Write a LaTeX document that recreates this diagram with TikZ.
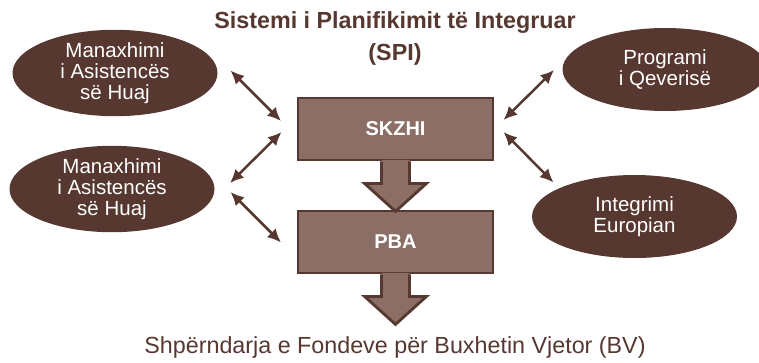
\documentclass[tikz,border=0pt]{standalone}
\usepackage{fontspec}
\setmainfont{Liberation Sans}
\usetikzlibrary{shapes.geometric,arrows.meta}

\definecolor{darkbrown}{HTML}{563830}
\definecolor{boxbrown}{HTML}{8B6F66}

\tikzset{
  ovalnode/.style={ellipse, fill=darkbrown, text=white, align=center, inner sep=0pt,
    minimum width=205pt, minimum height=83pt, font=\fontsize{20.5}{21}\selectfont},
  blockbox/.style={draw=darkbrown, fill=boxbrown, line width=2.8pt, text=white,
    minimum width=195pt, minimum height=62pt, font=\fontsize{20}{24}\selectfont\bfseries},
  linkarrow/.style={{Latex[length=13.5pt,width=12.5pt]}-{Latex[length=13.5pt,width=12.5pt]},
    draw=darkbrown, line width=2.5pt},
}

\begin{document}
\begin{tikzpicture}[x=1pt,y=-1pt]
    \useasboundingbox (0,0) rectangle (759,362);

    % title and result
    \node[text=darkbrown, align=center, font=\fontsize{23.3}{32}\selectfont\bfseries] (spi) at (395,38)
      {Sistemi i Planifikimit të Integruar\\(SPI)};
    \node[text=darkbrown, anchor=base, font=\fontsize{23.3}{26}\selectfont] (bv) at (395,353)
      {Shpërndarja e Fondeve për Buxhetin Vjetor (BV)};

    % the four ovals
    \node[ovalnode] (mah1) at (115,73) {Manaxhimi\\i Asistencës\\së Huaj};
    \node[ovalnode] (mah2) at (112,189) {Manaxhimi\\i Asistencës\\së Huaj};
    \node[ovalnode] (prog) at (665,69.5) {Programi\\i Qeverisë};
    \node[ovalnode] (integ) at (634.5,216.5) {Integrimi\\Europian};

    % the two blocks
    \node[blockbox] (skzhi) at (395.5,129) {SKZHI};
    \node[blockbox] (pba) at (395.5,242) {PBA};

    % block arrows below each box
    \foreach \b in {skzhi,pba} {
      \fill[boxbrown] ([xshift=-14pt,yshift=1.6pt]\b.south) -- ++(0,23.6) -- ++(-17,0)
        -- ++(31,28) -- ++(31,-28) -- ++(-17,0) -- ++(0,-23.6) -- cycle;
      \draw[darkbrown, line width=2.8pt, line join=miter] ([xshift=-14pt]\b.south) -- ++(0,22)
        -- ++(-17,0) -- ++(31,28) -- ++(31,-28) -- ++(-17,0) -- ++(0,-22);
    }

    % free ends of the links
    \coordinate (l1a) at (230.5,70.5);  \coordinate (l1b) at (281,121);
    \coordinate (l2a) at (230,183);     \coordinate (l2b) at (281.5,132);
    \coordinate (l3a) at (230.5,192);   \coordinate (l3b) at (281,242.5);
    \coordinate (r1a) at (554,70);      \coordinate (r1b) at (503.5,120);
    \coordinate (r2a) at (553.5,182.5); \coordinate (r2b) at (503.5,132);

    \draw[linkarrow] (l1a) -- (l1b);
    \draw[linkarrow] (l2a) -- (l2b);
    \draw[linkarrow] (l3a) -- (l3b);
    \draw[linkarrow] (r1a) -- (r1b);
    \draw[linkarrow] (r2a) -- (r2b);
\end{tikzpicture}
\end{document}
